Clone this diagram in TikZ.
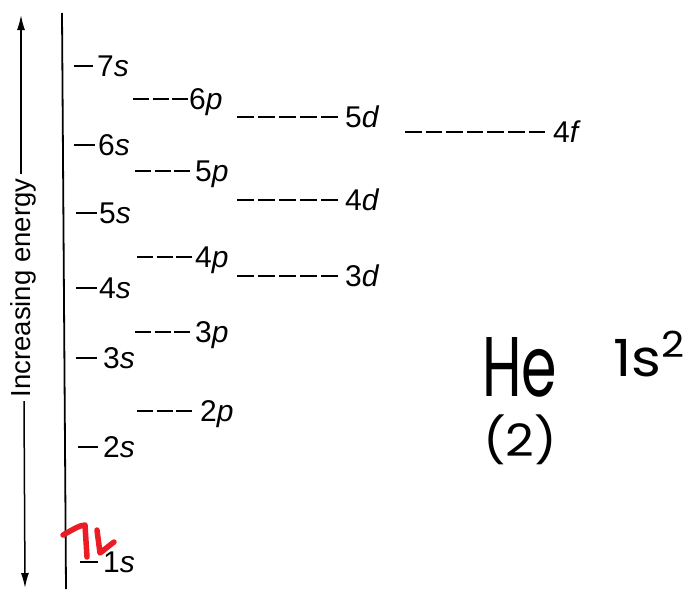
\documentclass[tikz,border=0pt]{standalone}
\usepackage{fontspec}
\setmainfont{Liberation Sans}
\newfontfamily\handfont{Poppins}
\usetikzlibrary{arrows.meta}
\definecolor{inkred}{RGB}{236,28,36}
\begin{document}
\begin{tikzpicture}[x=1pt,y=-1pt,
  lvl/.style={line width=2.8pt},
  sdash/.style={lvl},
  pdash/.style={lvl, dash pattern=on 16pt off 3.5pt},
  ddash/.style={lvl, dash pattern=on 17pt off 4pt},
  fdash/.style={lvl, dash pattern=on 16.6pt off 4pt},
  lab/.style={anchor=base west, inner sep=0pt, font=\fontsize{30}{30}\selectfont},
  hand/.style={inner sep=0pt, font=\handfont},
  axis/.style={line width=1.8pt},
  tip/.style={line width=1.5pt, -{Latex[length=15pt,width=8pt]}}
]
\fill[white] (0,0) rectangle (687,589);
\useasboundingbox (0,0) rectangle (687,589);

% vertical axis line
\coordinate (axtop) at (62,13);
\coordinate (axbot) at (66,589);
\draw[axis] (axtop) -- (axbot);

% energy arrow with label
\node[rotate=90, anchor=base, inner sep=0pt, font=\fontsize{27.5}{27.5}\selectfont] (energy) at (30,288) {Increasing energy};
\coordinate (toptip) at (21,15);
\coordinate (bottip) at (25,588);
\coordinate (topstart) at (21,174);
\coordinate (botstart) at (24,401);
\draw[tip] (topstart) -- (toptip);
\draw[tip] (botstart) -- (bottip);

% s levels
\node[lab] (s7) at (97,76.5) {7\textit{s}};
\draw[sdash] (74,66) -- (93,66);
\node[lab] (s6) at (98,155.5) {6\textit{s}};
\draw[sdash] (74,145) -- (95,145);
\node[lab] (s5) at (99,223.5) {5\textit{s}};
\draw[sdash] (76,213) -- (97,213);
\node[lab] (s4) at (99,298.5) {4\textit{s}};
\draw[sdash] (76,288) -- (97,288);
\node[lab] (s3) at (103,368.5) {3\textit{s}};
\draw[sdash] (76,358) -- (97,358);
\node[lab] (s2) at (103,457.5) {2\textit{s}};
\draw[sdash] (78,447) -- (98,447);
\node[lab] (s1) at (103,572.5) {1\textit{s}};
\draw[sdash] (80,562) -- (98,562);

% p levels
\node[lab] (p6) at (189,109.5) {6\textit{p}};
\draw[pdash] (133,99) -- (188,99);
\node[lab] (p5) at (195,181.5) {5\textit{p}};
\draw[pdash] (135,171) -- (190,171);
\node[lab] (p4) at (195,267.5) {4\textit{p}};
\draw[pdash] (137,257) -- (192,257);
\node[lab] (p3) at (195,342.5) {3\textit{p}};
\draw[pdash] (135,332) -- (190,332);
\node[lab] (p2) at (200,421.5) {2\textit{p}};
\draw[pdash] (137,411) -- (192,411);

% d levels
\node[lab] (d5) at (345,127.5) {5\textit{d}};
\draw[ddash] (237,117) -- (338,117);
\node[lab] (d4) at (345,210.5) {4\textit{d}};
\draw[ddash] (237,200) -- (338,200);
\node[lab] (d3) at (345,286.5) {3\textit{d}};
\draw[ddash] (237,276) -- (338,276);

% f level
\node[lab] (f4) at (553,142.5) {4\textit{f}};
\draw[fdash] (405,132) -- (545,132);

% handwritten notes
\node[hand, anchor=south west] (he) at (482,397) {\resizebox{75pt}{59pt}{He}};
\node[hand, anchor=south west] (cfg) at (613,377) {\resizebox{74pt}{45pt}{1s\textsuperscript{2}}};
\node[hand, anchor=north west] (num) at (483,415) {\resizebox*{74pt}{50pt}{(2)}};

% red electron pair marks
\draw[inkred, line width=5.5pt, line cap=round, line join=round]
  (63,535) .. controls (72,530) and (80,525) .. (85,525) -- (87,557);
\draw[inkred, line width=5.5pt, line cap=round, line join=round]
  (97,530) -- (100,553) .. controls (104,550) and (110,545) .. (114,542);
\end{tikzpicture}
\end{document}
